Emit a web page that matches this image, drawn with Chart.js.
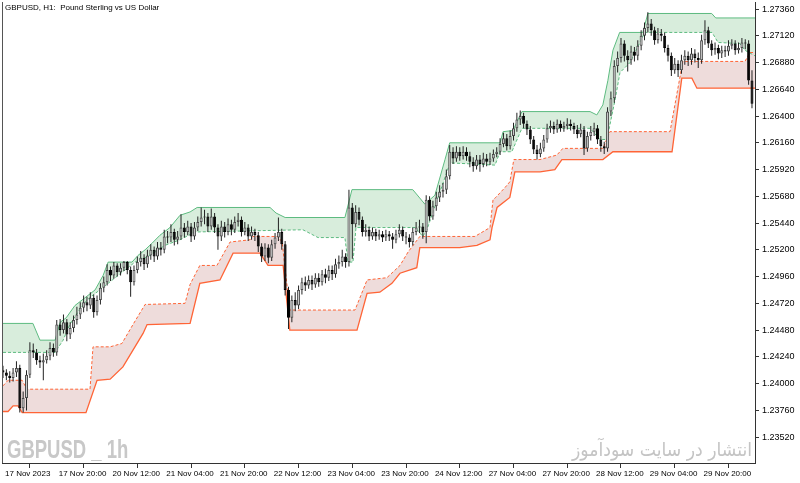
<!DOCTYPE html>
<html lang="en">
<head>
<meta charset="UTF-8">
<title>GBPUSD H1</title>
<script src="https://cdn.jsdelivr.net/npm/chart.js"></script>
<style>
  html, body { margin: 0; padding: 0; background: #fff; }
  #wrap { width: 800px; height: 483px; }
</style>
</head>
<body>
<div id="wrap"><canvas id="chart"></canvas></div>
<script>
// hourly bars, 17 Nov 04:00 .. 30 Nov 11:00 (bar index = position)
const firstOpen = 1.2412
const closes = [
  1.2410, 1.2407, 1.2405, 1.2410, 1.2414, 1.2378, 1.2387, 1.2408, 1.2430, 1.2428,
  1.2421, 1.2419, 1.2421, 1.2425, 1.2432, 1.2428, 1.2453, 1.2448, 1.2455, 1.2444,
  1.2450, 1.2457, 1.2462, 1.2468, 1.2473, 1.2470, 1.2477, 1.2464, 1.2475, 1.2486,
  1.2491, 1.2502, 1.2497, 1.2506, 1.2500, 1.2504, 1.2509, 1.2502, 1.2491, 1.2502,
  1.2509, 1.2513, 1.2507, 1.2515, 1.2520, 1.2514, 1.2522, 1.2520, 1.2532, 1.2531,
  1.2536, 1.2529, 1.2532, 1.2540, 1.2536, 1.2541, 1.2532, 1.2540, 1.2545, 1.2549,
  1.2550, 1.2541, 1.2550, 1.2540, 1.2532, 1.2541, 1.2536, 1.2543, 1.2538, 1.2545,
  1.2547, 1.2536, 1.2540, 1.2532, 1.2536, 1.2533, 1.2523, 1.2514, 1.2522, 1.2513,
  1.2525, 1.2531, 1.2536, 1.2525, 1.2484, 1.2459, 1.2475, 1.2470, 1.2484, 1.2491,
  1.2488, 1.2493, 1.2489, 1.2495, 1.2491, 1.2498, 1.2495, 1.2502, 1.2498, 1.2507,
  1.2509, 1.2514, 1.2509, 1.2558, 1.2543, 1.2554, 1.2547, 1.2536, 1.2538, 1.2532,
  1.2536, 1.2532, 1.2534, 1.2531, 1.2534, 1.2532, 1.2529, 1.2534, 1.2538, 1.2532,
  1.2531, 1.2527, 1.2536, 1.2540, 1.2541, 1.2536, 1.2565, 1.2550, 1.2559, 1.2567,
  1.2572, 1.2574, 1.2586, 1.2608, 1.2602, 1.2608, 1.2604, 1.2608, 1.2604, 1.2599,
  1.2595, 1.2601, 1.2597, 1.2602, 1.2599, 1.2602, 1.2606, 1.2608, 1.2615, 1.2620,
  1.2613, 1.2622, 1.2629, 1.2637, 1.2640, 1.2633, 1.2628, 1.2619, 1.2610, 1.2606,
  1.2611, 1.2619, 1.2629, 1.2631, 1.2628, 1.2633, 1.2629, 1.2631, 1.2633, 1.2631,
  1.2628, 1.2624, 1.2628, 1.2611, 1.2622, 1.2626, 1.2629, 1.2619, 1.2613, 1.2611,
  1.2644, 1.2656, 1.2685, 1.2692, 1.2705, 1.2694, 1.2690, 1.2698, 1.2694, 1.2703,
  1.2712, 1.2719, 1.2723, 1.2717, 1.2708, 1.2714, 1.2712, 1.2701, 1.2694, 1.2681,
  1.2687, 1.2681, 1.2690, 1.2694, 1.2690, 1.2696, 1.2692, 1.2690, 1.2708, 1.2717,
  1.2705, 1.2699, 1.2701, 1.2696, 1.2699, 1.2698, 1.2703, 1.2705, 1.2699, 1.2701,
  1.2706, 1.2705, 1.2672, 1.2651
]
const highs = [
  1.2416, 1.2413, 1.2411, 1.2414, 1.2420, 1.2417, 1.2393, 1.2412, 1.2437, 1.2436,
  1.2431, 1.2425, 1.2427, 1.2430, 1.2437, 1.2436, 1.2457, 1.2458, 1.2462, 1.2458,
  1.2455, 1.2461, 1.2469, 1.2473, 1.2479, 1.2478, 1.2482, 1.2480, 1.2479, 1.2490,
  1.2496, 1.2507, 1.2505, 1.2509, 1.2508, 1.2508, 1.2510, 1.2510, 1.2505, 1.2506,
  1.2514, 1.2519, 1.2516, 1.2520, 1.2525, 1.2523, 1.2527, 1.2527, 1.2538, 1.2537,
  1.2543, 1.2539, 1.2537, 1.2552, 1.2544, 1.2546, 1.2544, 1.2545, 1.2550, 1.2558,
  1.2556, 1.2553, 1.2557, 1.2553, 1.2543, 1.2546, 1.2545, 1.2548, 1.2547, 1.2550,
  1.2553, 1.2550, 1.2545, 1.2543, 1.2541, 1.2539, 1.2536, 1.2526, 1.2526, 1.2525,
  1.2529, 1.2535, 1.2549, 1.2539, 1.2528, 1.2487, 1.2479, 1.2482, 1.2488, 1.2495,
  1.2496, 1.2497, 1.2497, 1.2499, 1.2499, 1.2502, 1.2503, 1.2506, 1.2506, 1.2512,
  1.2515, 1.2520, 1.2517, 1.2574, 1.2562, 1.2560, 1.2558, 1.2550, 1.2543, 1.2541,
  1.2540, 1.2539, 1.2538, 1.2537, 1.2538, 1.2537, 1.2535, 1.2538, 1.2543, 1.2541,
  1.2536, 1.2534, 1.2540, 1.2545, 1.2547, 1.2544, 1.2569, 1.2568, 1.2564, 1.2572,
  1.2578, 1.2580, 1.2592, 1.2614, 1.2612, 1.2613, 1.2612, 1.2613, 1.2612, 1.2608,
  1.2603, 1.2605, 1.2605, 1.2607, 1.2606, 1.2607, 1.2610, 1.2612, 1.2620, 1.2625,
  1.2624, 1.2627, 1.2634, 1.2643, 1.2645, 1.2643, 1.2636, 1.2631, 1.2622, 1.2614,
  1.2616, 1.2623, 1.2633, 1.2636, 1.2635, 1.2637, 1.2636, 1.2635, 1.2638, 1.2637,
  1.2634, 1.2632, 1.2633, 1.2631, 1.2626, 1.2631, 1.2634, 1.2632, 1.2622, 1.2617,
  1.2648, 1.2662, 1.2690, 1.2698, 1.2710, 1.2708, 1.2699, 1.2703, 1.2702, 1.2708,
  1.2717, 1.2724, 1.2733, 1.2727, 1.2720, 1.2719, 1.2718, 1.2715, 1.2704, 1.2697,
  1.2692, 1.2690, 1.2695, 1.2699, 1.2698, 1.2701, 1.2700, 1.2697, 1.2713, 1.2726,
  1.2720, 1.2708, 1.2706, 1.2704, 1.2703, 1.2703, 1.2708, 1.2709, 1.2708, 1.2706,
  1.2710, 1.2709, 1.2708, 1.2681
]
const lows = [
  1.2405, 1.2403, 1.2401, 1.2402, 1.2406, 1.2374, 1.2374, 1.2376, 1.2405, 1.2423,
  1.2417, 1.2414, 1.2403, 1.2418, 1.2421, 1.2424, 1.2425, 1.2443, 1.2445, 1.2438,
  1.2440, 1.2446, 1.2453, 1.2458, 1.2464, 1.2465, 1.2467, 1.2459, 1.2461, 1.2471,
  1.2482, 1.2488, 1.2492, 1.2494, 1.2496, 1.2497, 1.2501, 1.2498, 1.2478, 1.2488,
  1.2499, 1.2505, 1.2502, 1.2504, 1.2511, 1.2509, 1.2511, 1.2515, 1.2517, 1.2526,
  1.2527, 1.2524, 1.2525, 1.2529, 1.2531, 1.2533, 1.2527, 1.2529, 1.2537, 1.2541,
  1.2543, 1.2536, 1.2538, 1.2535, 1.2520, 1.2528, 1.2531, 1.2533, 1.2533, 1.2535,
  1.2541, 1.2532, 1.2533, 1.2528, 1.2529, 1.2528, 1.2518, 1.2509, 1.2510, 1.2508,
  1.2510, 1.2521, 1.2528, 1.2520, 1.2479, 1.2449, 1.2455, 1.2465, 1.2467, 1.2480,
  1.2483, 1.2485, 1.2484, 1.2486, 1.2487, 1.2488, 1.2490, 1.2492, 1.2493, 1.2495,
  1.2503, 1.2505, 1.2504, 1.2505, 1.2512, 1.2540, 1.2542, 1.2532, 1.2532, 1.2528,
  1.2529, 1.2528, 1.2529, 1.2527, 1.2528, 1.2528, 1.2521, 1.2526, 1.2531, 1.2528,
  1.2525, 1.2522, 1.2524, 1.2533, 1.2535, 1.2530, 1.2526, 1.2546, 1.2547, 1.2555,
  1.2563, 1.2567, 1.2570, 1.2583, 1.2597, 1.2599, 1.2600, 1.2601, 1.2600, 1.2594,
  1.2590, 1.2592, 1.2590, 1.2594, 1.2595, 1.2596, 1.2599, 1.2603, 1.2605, 1.2612,
  1.2609, 1.2610, 1.2618, 1.2626, 1.2632, 1.2629, 1.2623, 1.2615, 1.2606, 1.2601,
  1.2603, 1.2608, 1.2616, 1.2625, 1.2624, 1.2625, 1.2626, 1.2626, 1.2628, 1.2627,
  1.2624, 1.2620, 1.2621, 1.2605, 1.2608, 1.2618, 1.2622, 1.2615, 1.2608, 1.2606,
  1.2608, 1.2640, 1.2652, 1.2679, 1.2688, 1.2689, 1.2680, 1.2686, 1.2689, 1.2690,
  1.2699, 1.2708, 1.2715, 1.2712, 1.2704, 1.2705, 1.2707, 1.2697, 1.2689, 1.2676,
  1.2678, 1.2675, 1.2678, 1.2686, 1.2685, 1.2686, 1.2688, 1.2683, 1.2687, 1.2704,
  1.2701, 1.2694, 1.2695, 1.2691, 1.2692, 1.2693, 1.2694, 1.2700, 1.2695, 1.2696,
  1.2697, 1.2700, 1.2668, 1.2647
]

// channel lines, [bar, price] at the corners seen in the picture
const upperOuter = [[0,1.2454],[8.9,1.2454],[11,1.2439],[15.5,1.2439],[17,1.2455],[18.8,1.2459],[21.4,1.2470],[24.4,1.2477],[27.4,1.2484],[29.8,1.2497],[31.3,1.2509],[38.4,1.2509],[40.2,1.2515],[42.3,1.2520],[44.4,1.2526],[46.7,1.2533],[49.7,1.2540],[52.7,1.2551],[55.7,1.2554],[57.8,1.2558],[79.5,1.2558],[81.3,1.2553],[84,1.2549],[101.8,1.2549],[103.9,1.2574],[122,1.2574],[125.6,1.2561],[128.6,1.2569],[131.6,1.2601],[133,1.2616],[148,1.2616],[148.9,1.2626],[151.8,1.2627],[154.5,1.2644],[174.8,1.2644],[176.8,1.2641],[178.6,1.2650],[180.1,1.2672],[181.6,1.2699],[183.6,1.2715],[190.5,1.2715],[192,1.2732],[211,1.2732],[212.2,1.2728],[223.9,1.2728]]
const upperInner = [[0,1.2428],[15.5,1.2428],[17.9,1.2439],[19.9,1.2453],[22.3,1.2464],[25,1.2475],[39.3,1.2509],[43.8,1.2515],[48.2,1.2524],[52.7,1.2529],[57.2,1.2536],[89.3,1.2538],[93.8,1.2531],[101.8,1.2531],[102.7,1.2509],[104.2,1.2509],[105.1,1.2540],[122.7,1.2540],[125,1.2532],[126.2,1.2538],[133.1,1.2598],[146.5,1.2596],[148,1.2608],[151.5,1.2608],[154.5,1.2629],[174.8,1.2629],[177.7,1.2619],[179.8,1.2619],[182.2,1.2654],[183.7,1.2679],[186.7,1.2688],[191.1,1.2715],[211.1,1.2715],[212.9,1.2706],[219.4,1.2705],[220.9,1.2699],[223.9,1.2694]]
const lowerInner = [[0,1.2398],[1.5,1.2403],[5.7,1.2403],[7.1,1.2395],[25.9,1.2395],[26.8,1.2433],[31.9,1.2433],[35.4,1.2436],[38.7,1.2453],[42.3,1.2471],[54.2,1.2472],[55.7,1.2489],[58.6,1.2506],[63.7,1.2506],[67.6,1.2527],[73.5,1.2529],[74.4,1.2532],[81.9,1.2532],[83.1,1.2527],[85.4,1.2466],[104.8,1.2466],[108.4,1.2493],[114.3,1.2495],[118.2,1.2506],[120.6,1.2518],[124.1,1.2532],[140.5,1.2532],[145,1.2540],[145.9,1.2565],[146.7,1.2567],[149.5,1.2576],[150.9,1.2581],[152.1,1.2601],[159.9,1.2601],[164.9,1.2605],[166.7,1.2611],[178.6,1.2611],[180.7,1.2626],[198.6,1.2626],[202.4,1.2689],[220.9,1.2689],[222.4,1.2697],[223.9,1.2697]]
const lowerOuter = [[0,1.2375],[1.5,1.2375],[3,1.2380],[4.5,1.2380],[5.7,1.2374],[24.7,1.2374],[28,1.2403],[31.9,1.2404],[35.7,1.2415],[41.7,1.2445],[42.9,1.2453],[55.7,1.2454],[58.6,1.2490],[64.6,1.2493],[68.5,1.2517],[76.5,1.2517],[78.9,1.2506],[83.4,1.2506],[85.4,1.2448],[105.4,1.2448],[108.4,1.2481],[112.2,1.2482],[115.8,1.2490],[118.2,1.2499],[123.2,1.2504],[124.1,1.2522],[136,1.2522],[141.1,1.2524],[145,1.2529],[145.6,1.2540],[147.1,1.2558],[150.9,1.2567],[152.4,1.2590],[159.9,1.2590],[164.3,1.2592],[166.4,1.2601],[178.6,1.2601],[181.6,1.2608],[199.2,1.2608],[202.1,1.2674],[205.1,1.2674],[206.6,1.2665],[223.9,1.2665]]

const xTickBars = [0, 16, 32, 48, 64, 80, 96, 112, 128, 144, 160, 176, 192, 208]
const xTickLabels = ['17 Nov 2023', '17 Nov 20:00', '20 Nov 12:00', '21 Nov 04:00', '21 Nov 20:00',
  '22 Nov 12:00', '23 Nov 04:00', '23 Nov 20:00', '24 Nov 12:00', '27 Nov 04:00',
  '27 Nov 20:00', '28 Nov 12:00', '29 Nov 04:00', '29 Nov 20:00']
const yTicks = [1.2352, 1.2376, 1.2400, 1.2424, 1.2448, 1.2472, 1.2496, 1.2520, 1.2544,
  1.2568, 1.2592, 1.2616, 1.2640, 1.2664, 1.2688, 1.2712, 1.2736]

const title = 'GBPUSD, H1:  Pound Sterling vs US Dollar'

const opens = closes.map((c, i) => i === 0 ? firstOpen : closes[i - 1])
const toXY = pts => pts.map(p => ({ x: p[0], y: p[1] }))
const wicks = closes.map((c, i) => ({ x: i, y: [lows[i], highs[i]] }))
const bodies = closes.map((c, i) => ({ x: i, y: [opens[i], c] }))
const isUp = i => closes[i] >= opens[i]

const green = '#5dbb80'
const orange = '#ff6436'
const tickFont = { family: 'Liberation Sans', size: 8 }

const overlay = {
  id: 'overlay',
  afterDraw(chart) {
    const ctx = chart.ctx
    const a = chart.chartArea
    ctx.save()
    ctx.strokeStyle = '#555'
    ctx.lineWidth = 1
    ctx.beginPath()
    ctx.moveTo(a.left + 0.5, a.top)
    ctx.lineTo(a.left + 0.5, a.bottom)
    ctx.stroke()

    ctx.fillStyle = '#000'
    ctx.font = '8px "Liberation Sans"'
    ctx.textBaseline = 'middle'
    ctx.fillText(title, a.left + 3, a.top + 6)

    ctx.fillStyle = '#c8c8c8'
    ctx.textBaseline = 'alphabetic'
    ctx.font = 'bold 25px "Liberation Sans"'
    ctx.save()
    ctx.translate(a.left + 5, 458)
    ctx.scale(0.74, 1)
    ctx.fillText('GBPUSD _ 1h', 0, 0)
    ctx.restore()

    ctx.fillStyle = '#c4c4c4'
    ctx.font = '19px "DejaVu Sans"'
    const fa = 'انتشار در سایت سودآموز'
    const w = ctx.measureText(fa).width
    ctx.save()
    ctx.translate(752, 456)
    ctx.scale(180 / w, 1)
    ctx.textAlign = 'right'
    ctx.fillText(fa, 0, 0)
    ctx.restore()
    ctx.restore()
  }
}

new Chart(document.getElementById('chart'), {
  type: 'line',
  data: {
    datasets: [
      { data: toXY(upperOuter), borderColor: green, borderWidth: 1, fill: { target: 1 }, backgroundColor: '#d8eddc', pointRadius: 0, order: 4 },
      { data: toXY(upperInner), borderColor: green, borderWidth: 1, borderDash: [3, 2], fill: false, pointRadius: 0, order: 3 },
      { data: toXY(lowerInner), borderColor: orange, borderWidth: 1, borderDash: [3, 2], fill: { target: 3 }, backgroundColor: '#eedcdb', pointRadius: 0, order: 3 },
      { data: toXY(lowerOuter), borderColor: orange, borderWidth: 1.3, fill: false, pointRadius: 0, order: 4 },
      { type: 'bar', data: wicks, backgroundColor: '#222', barThickness: 1, grouped: false, inflateAmount: 0, borderWidth: 0, order: 1 },
      {
        type: 'bar', data: bodies, barThickness: 3, grouped: false, inflateAmount: 0, minBarLength: 1,
        borderSkipped: false, borderWidth: 1, order: 0,
        backgroundColor: c => isUp(c.dataIndex) ? '#cfcfcf' : '#000',
        borderColor: c => isUp(c.dataIndex) ? '#4a4a4a' : '#000'
      }
    ]
  },
  options: {
    responsive: true,
    maintainAspectRatio: false,
    animation: false,
    layout: { padding: { left: 2, top: 2 } },
    plugins: {
      legend: { display: false },
      tooltip: { enabled: false },
      filler: { drawTime: 'beforeDatasetsDraw' }
    },
    scales: {
      x: {
        type: 'linear', min: -0.3, max: 223.9, offset: false,
        grid: { drawOnChartArea: false, tickLength: 5, color: '#333' },
        border: { display: true, color: '#333' },
        ticks: {
          autoSkip: false, maxRotation: 0, align: 'start', labelOffset: 2, padding: 1,
          color: '#000', font: tickFont,
          callback: (v, i) => xTickLabels[i]
        },
        afterBuildTicks: s => { s.ticks = xTickBars.map(v => ({ value: v })) },
        afterFit: s => { s.height = 20; s.paddingLeft = 0; s.paddingRight = 0 }
      },
      y: {
        position: 'right', min: 1.23288, max: 1.27423,
        grid: { drawOnChartArea: false, tickLength: 4, color: '#333' },
        border: { display: true, color: '#333' },
        ticks: { padding: 3, color: '#000', font: { family: 'Liberation Sans', size: 9 }, callback: v => v.toFixed(5) },
        afterBuildTicks: s => { s.ticks = yTicks.map(v => ({ value: v })) },
        afterFit: s => { s.width = 45; s.paddingTop = 0; s.paddingBottom = 0 }
      }
    }
  },
  plugins: [overlay]
})
</script>
</body>
</html>
